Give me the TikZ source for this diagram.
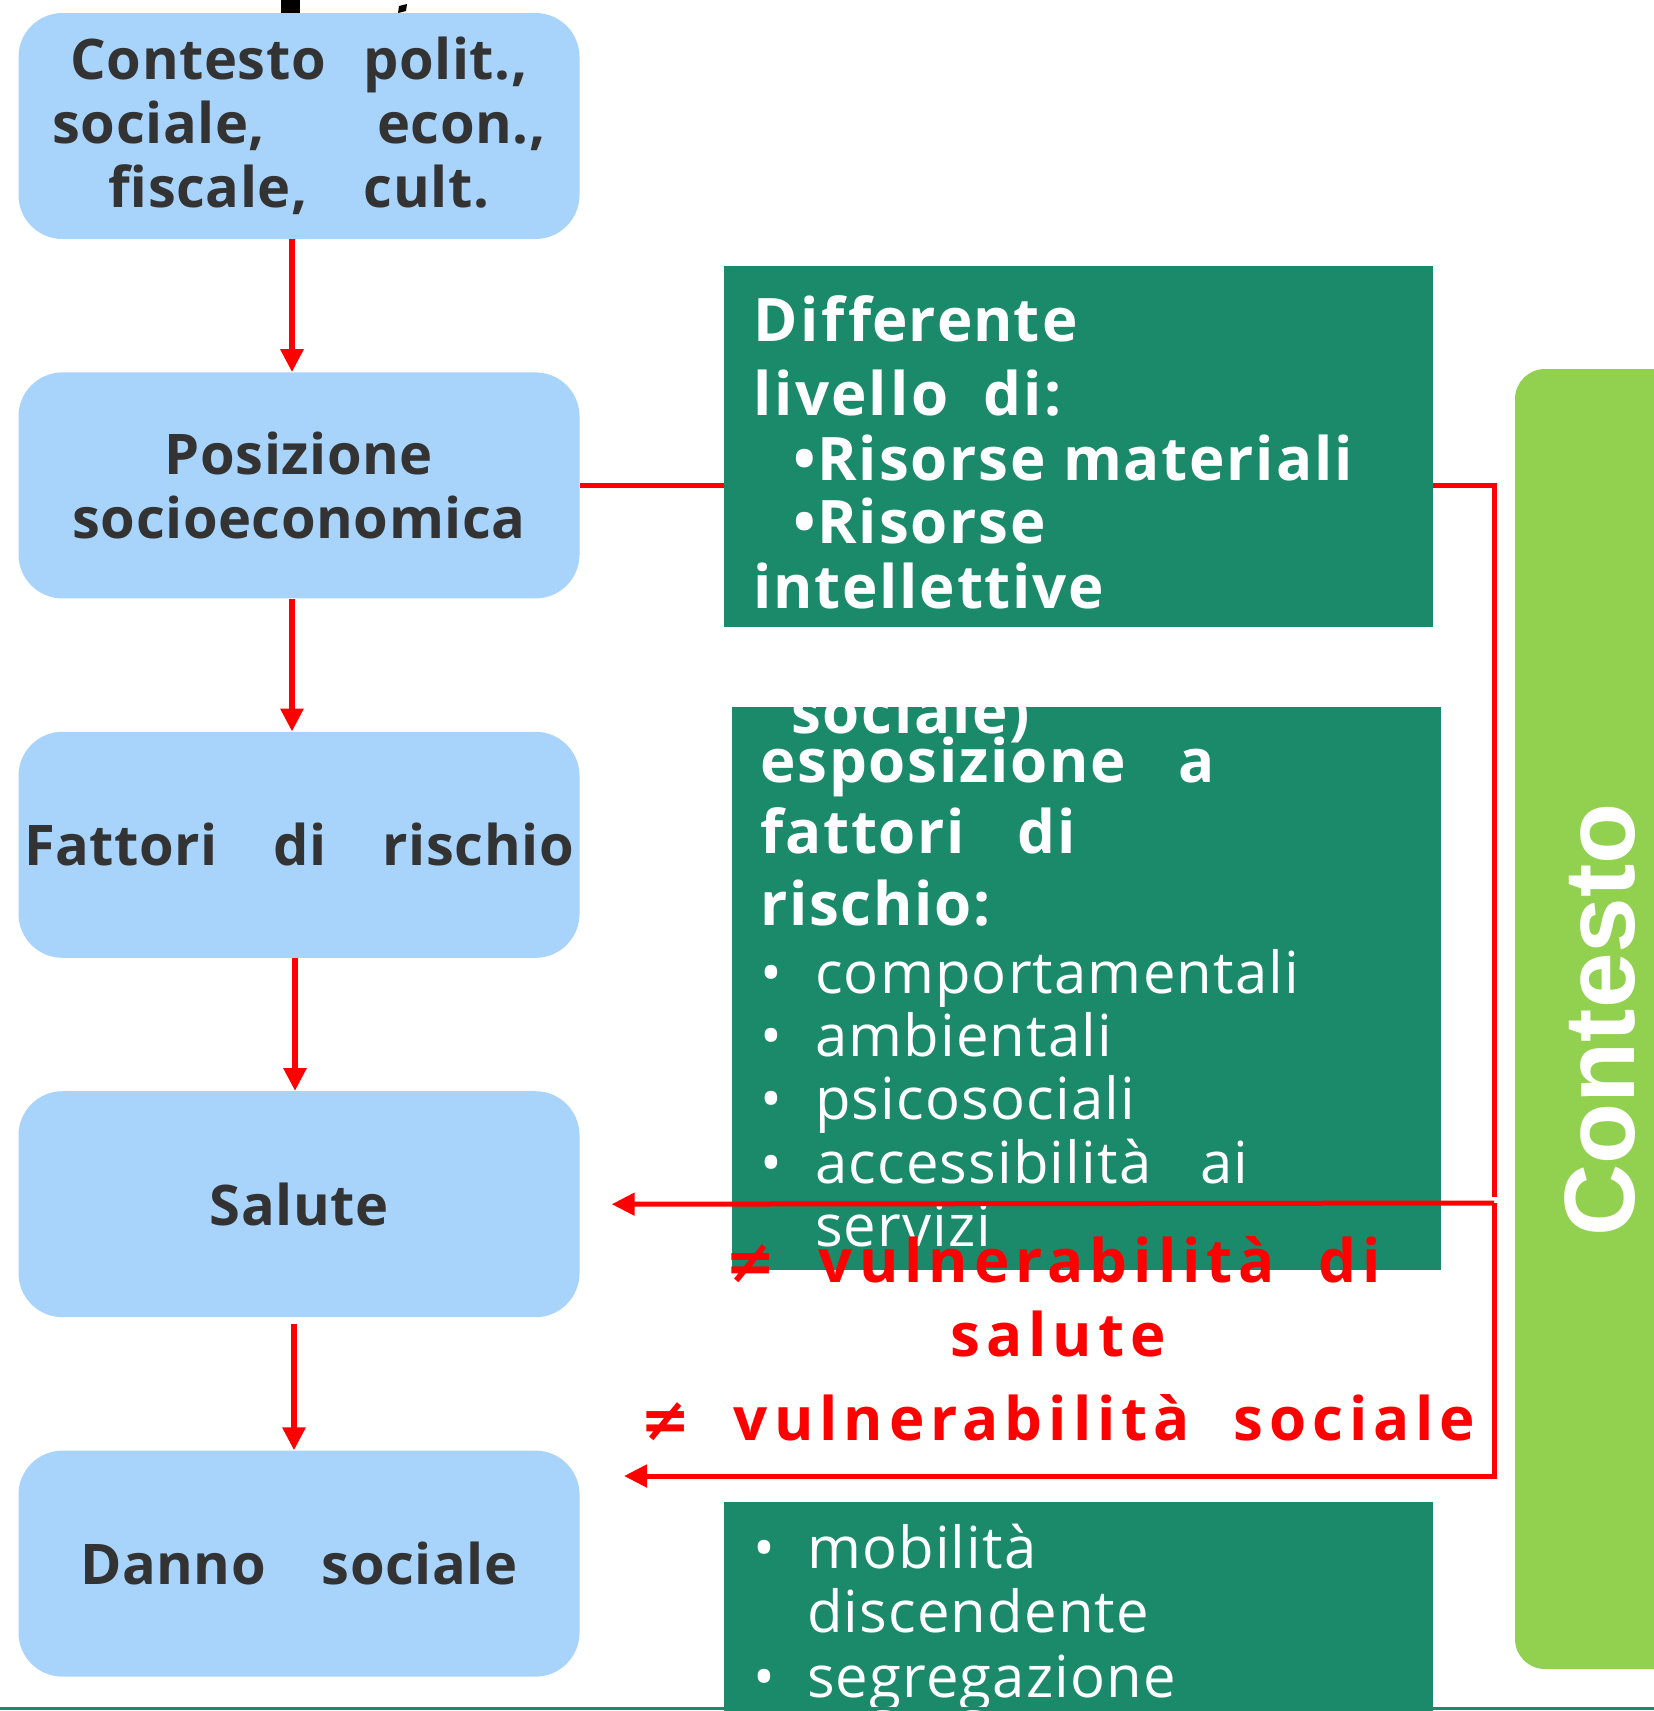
\documentclass[tikz,border=0pt]{standalone}
\usepackage{fontspec}
\setmainfont{Open Sans}
\newfontfamily\contfont{Liberation Sans}
\newfontfamily\symfont{DejaVu Sans}
\usepackage{xcolor}
\usetikzlibrary{arrows.meta, positioning}
\definecolor{boxblue}{HTML}{A8D4FC}
\definecolor{darkgreen}{HTML}{1B8A6B}
\definecolor{lightgreen}{HTML}{92D050}
\definecolor{textgray}{HTML}{333333}
\begin{document}
\begin{tikzpicture}[
  x=1pt, y=1pt,
  node distance=133pt,
  stepbox/.style={rectangle, rounded corners=44pt, fill=boxblue, minimum width=561pt, minimum height=226pt, text width=561pt, inner sep=0pt, align=center, text=textgray, font=\fontsize{56}{64}\selectfont\bfseries\addfontfeature{LetterSpace=1}},
  greenbox/.style={rectangle, fill=darkgreen, anchor=north west, inner sep=0pt},
  wbold/.style={anchor=base west, inner sep=0pt, text=white, font=\fontsize{60}{60}\selectfont\bfseries\addfontfeature{LetterSpace=3}},
  wlight/.style={anchor=base west, inner sep=0pt, text=white, font=\fontsize{58}{58}\selectfont\addfontfeature{LetterSpace=2}},
  redtext/.style={anchor=base, inner sep=0pt, text=red, font=\fontsize{60}{60}\selectfont\bfseries\addfontfeature{LetterSpace=10}},
  arr/.style={-{Triangle[length=23pt, width=22pt]}, line width=6pt, red},
  link/.style={line width=5pt, red}
]
  \useasboundingbox (0,0) rectangle (1654,-1711);
  \fill[white] (0,0) rectangle (1654,-1711);
  \clip (0,0) rectangle (1654,-1711);

  % cut title fragment
  \fill[black] (281,0) rectangle (300,-13);
  \fill[black] (399,-6) -- (407,-4) -- (406,-11) -- (398,-13) -- cycle;

  % chain of levels
  \node[stepbox] (contesto) at (299,-126) {Contesto\ \ polit.,\\sociale,\qquad econ.,\\fiscale,\ \ \ cult.};
  \node[stepbox, below=of contesto] (posizione) {Posizione\\socioeconomica};
  \node[stepbox, below=of posizione] (fattori) {\makebox[561pt][c]{Fattori\ \ \ di\ \ \ rischio}};
  \node[stepbox, below=of fattori] (salute) {Salute};
  \node[stepbox, below=of salute] (danno) {Danno\ \ \ sociale};

  \draw[arr] ([xshift=-7pt]contesto.south) -- ([xshift=-7pt]posizione.north);
  \draw[arr] ([xshift=-7pt]posizione.south) -- ([xshift=-7pt]fattori.north);
  \draw[arr] ([xshift=-4pt]fattori.south) -- ([xshift=-4pt]salute.north);
  \draw[arr] ([xshift=-5pt,yshift=-7pt]salute.south) -- ([xshift=-5pt]danno.north);

  % green boxes
  \node[greenbox, minimum width=709pt, minimum height=361pt] (risorse) at (724,-266) {};
  \node[greenbox, minimum width=709pt, minimum height=563pt] (esposizione) at (732,-707) {};
  \node[greenbox, minimum width=709pt, minimum height=215pt] (mobilita) at (724,-1502) {};

  % side bar
  \fill[lightgreen, rounded corners=30pt] (1515,-369) rectangle (1690,-1669);
  \node[rotate=90, inner sep=0pt, text=white, font=\contfont\bfseries\fontsize{100}{100}\selectfont] (ctx) at (1600,-1020) {Contesto};

  % texts of the green boxes
  \node[wbold] (r1) at (753,-341) {D\kern3pt i\kern3pt f\kern3pt f\kern1pt e\kern1pt r\kern1pt e\kern1pt n\kern1pt t\kern3pt e};
  \node[wbold] (r2) at (753,-415) {l\kern3pt i\kern3pt vel\kern3pt l\kern3pt o\ \ di\kern3pt :};
  \node[wbold] (r3) at (793,-480) {•Risorse\ materiali};
  \node[wbold] (r4) at (793,-543) {•Risorse};
  \node[wbold] (r5) at (753,-608) {intellettive};

  \node[wbold] (e0) at (791,-733) {sociale)};
  \node[wbold] (e1) at (760,-782) {esposizione\ \ \ a};
  \node[wbold] (e2) at (760,-853) {fattori\ \ \ di};
  \node[wbold] (e3) at (760,-925) {rischio:};
  \node[wlight] (b1) at (760,-993) {•};
  \node[wlight] (e4) at (815,-993) {comportamentali};
  \node[wlight] (b2) at (760,-1056) {•};
  \node[wlight] (e5) at (815,-1056) {ambientali};
  \node[wlight] (b3) at (760,-1119) {•};
  \node[wlight] (e6) at (815,-1119) {psicosociali};
  \node[wlight] (b4) at (760,-1183) {•};
  \node[wlight] (e7) at (815,-1183) {accessibilità\ \ \ ai};
  \node[wlight] (e8) at (815,-1246) {servizi};

  \node[wlight] (b5) at (753,-1568) {•};
  \node[wlight] (m1) at (807,-1568) {mobilità};
  \node[wlight] (m2) at (807,-1632) {discendente};
  \node[wlight] (b6) at (753,-1697) {•};
  \node[wlight] (m3) at (807,-1697) {segregazione};

  % vulnerability labels
  \node[redtext] (vs1) at (1053,-1282) {{\symfont ≠}\ \ vulnerabilità\ \ di};
  \node[redtext] (vs2) at (1058,-1356) {salute};
  \node[redtext] (vs3) at (1058,-1440) {{\symfont ≠}\ \ vulnerabilità\ \ sociale};

  % feedback connectors
  \coordinate (turn) at (1494,-1203);
  \coordinate (low) at (1494,-1476);
  \draw[link] (posizione.east) -- (posizione.east -| risorse.west);
  \draw[link] (posizione.east -| risorse.east) -| ([yshift=6pt]turn);
  \draw[arr, line width=5pt] (turn) -- ([xshift=32pt]salute.east);
  \draw[arr, line width=5pt] (turn) -- (low) -- (low -| 624,0);

  % bottom rule
  \draw[darkgreen, line width=3pt] (0,-1708) -- (1654,-1708);
\end{tikzpicture}
\end{document}
